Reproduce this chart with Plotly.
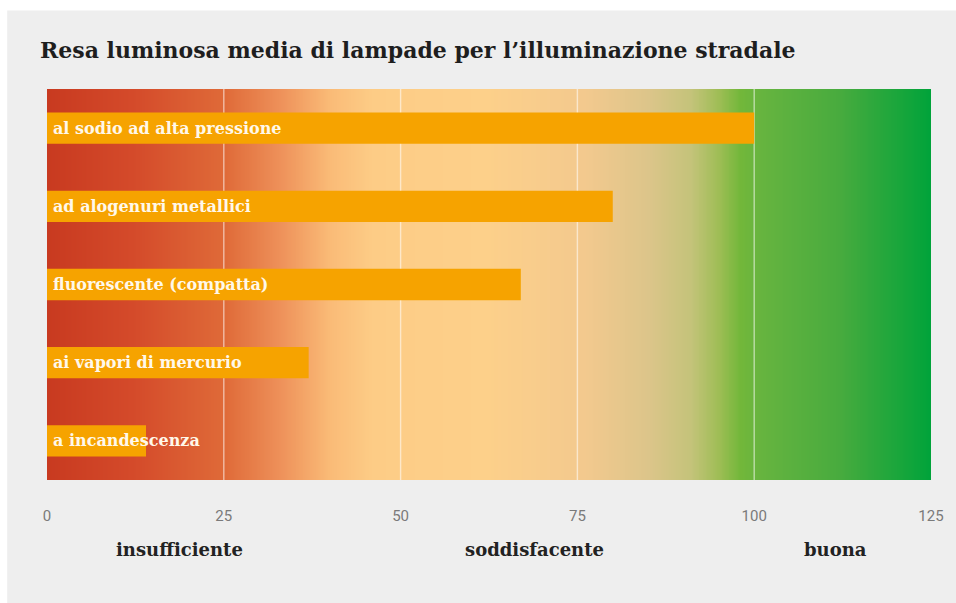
import numpy as np
import plotly.graph_objects as go

# ---- data ----
categories = ["al sodio ad alta pressione", "ad alogenuri metallici",
              "fluorescente (compatta)", "ai vapori di mercurio", "a incandescenza"]
values = [100, 80, 67, 37, 14]
tick_vals = [0, 25, 50, 75, 100, 125]
grid_vals = [25, 50, 75, 100]
zone_labels = ["insufficiente", "soddisfacente", "buona"]
zone_pos = [18.8, 68.9, 111.5]

title = "Resa luminosa media di lampade per l’illuminazione stradale"

X_MAX = 125
n = len(categories)
ypos = list(range(n - 1, -1, -1))  # top to bottom

SERIF = "DejaVu Serif, Liberation Serif, serif"

# background gradient (heatmap over x)
edges = np.linspace(0, X_MAX, 501)
centers = (edges[:-1] + edges[1:]) / 2
colorscale = [
    [0 / 125, "#c83a20"],
    [12 / 125, "#d44a2a"],
    [25 / 125, "#df6a38"],
    [33 / 125, "#ee915a"],
    [40 / 125, "#fabb77"],
    [46 / 125, "#fdcc86"],
    [62 / 125, "#fdd08a"],
    [76 / 125, "#f3c98e"],
    [85 / 125, "#dcc58a"],
    [91 / 125, "#c4c37a"],
    [95 / 125, "#9ebd55"],
    [98 / 125, "#72b73a"],
    [101 / 125, "#66b43f"],
    [112 / 125, "#48ab3e"],
    [125 / 125, "#00a33a"],
]

fig = go.Figure()

fig.add_trace(go.Heatmap(
    x=edges, y=[-0.5, n - 0.5], z=[centers],
    colorscale=colorscale, zmin=0, zmax=X_MAX, zsmooth="best",
    showscale=False, hoverinfo="skip",
))

# grid lines as thin bars (so they sit above the gradient but below data bars)
fig.add_trace(go.Bar(
    orientation="h",
    y=[(n - 1) / 2] * len(grid_vals),
    base=[g - 0.1 for g in grid_vals],
    x=[0.2] * len(grid_vals),
    width=n,
    marker=dict(color="rgba(255,255,255,0.55)", line=dict(width=0)),
    hoverinfo="skip", showlegend=False,
))

fig.add_trace(go.Bar(
    orientation="h",
    y=ypos, x=values, width=0.4,
    marker=dict(color="#f6a300", line=dict(width=0)),
    hovertext=categories, hoverinfo="text+x", showlegend=False,
))

annotations = []
for cat, yp in zip(categories, ypos):
    annotations.append(dict(
        x=0, y=yp, xref="x", yref="y", text=cat, showarrow=False,
        xanchor="left", yanchor="middle", xshift=4,
        font=dict(family=SERIF, size=16, color="#fff8ea", weight="bold"),
    ))
for lab, xp in zip(zone_labels, zone_pos):
    annotations.append(dict(
        x=xp, y=-0.179, xref="x", yref="paper", text=lab, showarrow=False,
        xanchor="center", yanchor="middle",
        font=dict(family=SERIF, size=18, color="#222222", weight="bold"),
    ))
annotations.append(dict(
    x=-0.01, y=1.0997, xref="paper", yref="paper", text=title, showarrow=False,
    xanchor="left", yanchor="middle",
    font=dict(family=SERIF, size=22, color="#1e1e1e", weight="bold"),
))

fig.update_layout(
    width=956, height=603,
    autosize=False,
    margin=dict(l=47, r=20, t=89, b=123),
    paper_bgcolor="#ffffff",
    plot_bgcolor="#eeeeee",
    barmode="overlay",
    showlegend=False,
    annotations=annotations,
    shapes=[dict(
        type="rect", xref="paper", yref="paper",
        x0=-0.045, x1=1.03, y0=-0.35, y1=1.201,
        fillcolor="#eeeeee", line=dict(width=0), layer="below",
    )],
    xaxis=dict(
        range=[0, X_MAX], tickvals=tick_vals, ticktext=[str(t) for t in tick_vals],
        showgrid=False, zeroline=False, showline=False,
        ticks="outside", ticklen=22, tickcolor="rgba(0,0,0,0)",
        tickfont=dict(family="Liberation Sans Narrow, Roboto, sans-serif", size=15, color="#7a7a7a"),
    ),
    yaxis=dict(
        range=[-0.5, n - 0.5], showticklabels=False, showgrid=False,
        zeroline=False, showline=False, ticks="",
    ),
)

fig.write_html(
    "out.html",
    config={"displayModeBar": False, "responsive": False},
    post_script="document.body.style.margin='0';document.body.style.overflow='hidden';",
)
